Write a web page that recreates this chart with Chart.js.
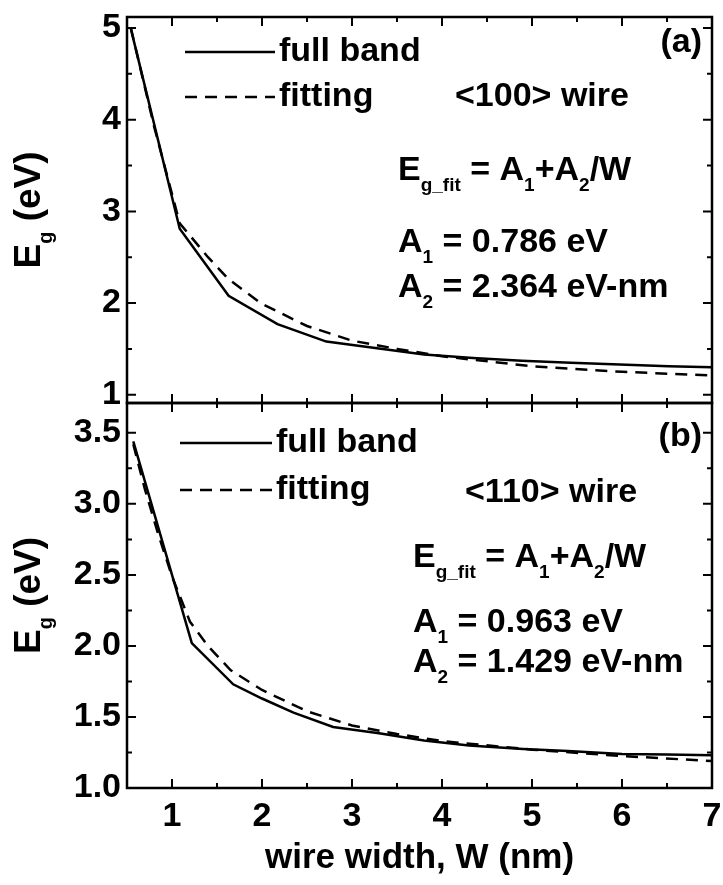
<!DOCTYPE html>
<html><head><meta charset="utf-8">
<script src="https://cdn.jsdelivr.net/npm/chart.js@4.4.1/dist/chart.umd.min.js"></script>
<style>
html,body{margin:0;padding:0;background:#fff;width:723px;height:885px;overflow:hidden}
#c1{position:absolute;left:0;top:0}
#c2{position:absolute;left:0;top:400px}
</style></head><body>
<canvas id="c1" width="723" height="406"></canvas>
<canvas id="c2" width="723" height="485"></canvas>
<script>
// ---------- data ----------
// (a) <100> wire
const wFullA = [0.543, 1.086, 1.629, 2.172, 2.715, 3.258, 3.801, 4.344, 4.887, 5.430, 5.973, 6.516, 7.059];
const egFullA = [4.99, 2.81, 2.08, 1.77, 1.58, 1.51, 1.44, 1.40, 1.37, 1.35, 1.33, 1.31, 1.30];
const wFitA = [0.543, 0.8, 1.086, 1.4, 1.629, 2.0, 2.5, 3.0, 3.5, 4.0, 5.0, 6.0, 7.0];
const egFitA = [5.00, 3.93, 2.87, 2.50, 2.26, 1.99, 1.75, 1.59, 1.50, 1.42, 1.31, 1.25, 1.21];
// (b) <110> wire
const wFullB = [0.57, 1.22, 1.68, 2.0, 2.35, 2.79, 3.3, 3.8, 4.3, 4.9, 5.4, 6.0, 6.5, 7.06];
const egFullB = [3.44, 2.02, 1.73, 1.63, 1.53, 1.43, 1.385, 1.335, 1.30, 1.275, 1.26, 1.24, 1.235, 1.23];
const wFitB = [0.57, 0.7, 0.85, 1.0, 1.2, 1.4, 1.65, 2.0, 2.5, 3.0, 3.5, 4.0, 5.0, 6.0, 7.0];
const egFitB = [3.42, 3.10, 2.78, 2.49, 2.17, 2.00, 1.83, 1.69, 1.54, 1.44, 1.38, 1.33, 1.27, 1.225, 1.19];
// ticks
const xTicks = [1, 2, 3, 4, 5, 6, 7];
const xMinor = [1.5, 2.5, 3.5, 4.5, 5.5, 6.5];
const yTicksA = [1, 2, 3, 4, 5];
const yMinorA = [1.5, 2.5, 3.5, 4.5];
const yTicksB = [1.0, 1.5, 2.0, 2.5, 3.0, 3.5];
const yMinorB = [1.25, 1.75, 2.25, 2.75, 3.25];
const seriesNames = ['full band', 'fitting'];
const xTitle = 'wire width, W (nm)';

const FONT = '"Liberation Sans", Arial, Helvetica, sans-serif';
const f = (s) => `bold ${s}px ${FONT}`;

function pts(xs, ys) { return xs.map((x, i) => ({ x: x, y: ys[i] })); }

function drawRich(ctx, x, y, parts, size) {
  let cx = x;
  ctx.textBaseline = 'alphabetic';
  ctx.textAlign = 'left';
  for (const [t, m] of parts) {
    if (m === 's') {
      ctx.font = f(Math.round(size * 0.55));
      ctx.fillText(t, cx, y + size * 0.32);
    } else {
      ctx.font = f(size);
      ctx.fillText(t, cx, y);
    }
    cx += ctx.measureText(t).width;
  }
  return cx;
}

function makePlugin(cfg) {
  return {
    id: 'deco',
    afterDatasetsDraw(chart) {
      const ctx = chart.ctx;
      const a = chart.chartArea;
      const xs = chart.scales.x, ys = chart.scales.y;
      ctx.save();
      ctx.strokeStyle = '#000';
      ctx.fillStyle = '#000';
      ctx.setLineDash([]);
      // frame
      ctx.lineWidth = 2.5;
      ctx.strokeRect(a.left, a.top, a.right - a.left, a.bottom - a.top);
      // ticks (inward)
      ctx.lineWidth = 2;
      const tk = (list, len) => {
        for (const v of list) {
          const px = xs.getPixelForValue(v);
          if (px < a.left || px > a.right) continue;
          ctx.beginPath();
          ctx.moveTo(px, a.bottom); ctx.lineTo(px, a.bottom - len);
          ctx.moveTo(px, a.top); ctx.lineTo(px, a.top + len);
          ctx.stroke();
        }
      };
      tk(xTicks, 9); tk(xMinor, 5);
      const tky = (list, len) => {
        for (const v of list) {
          const py = ys.getPixelForValue(v);
          ctx.beginPath();
          ctx.moveTo(a.left, py); ctx.lineTo(a.left + len, py);
          ctx.moveTo(a.right, py); ctx.lineTo(a.right - len, py);
          ctx.stroke();
        }
      };
      tky(cfg.yMajor, 9); tky(cfg.yMinor, 5);

      // legend
      const L = cfg.legend;
      ctx.lineWidth = 2.5;
      ctx.beginPath(); ctx.moveTo(L.x0, L.y1); ctx.lineTo(L.x1, L.y1); ctx.stroke();
      ctx.setLineDash([12, 8]);
      ctx.beginPath(); ctx.moveTo(L.x0, L.y2); ctx.lineTo(L.x1, L.y2); ctx.stroke();
      ctx.setLineDash([]);
      ctx.font = f(34);
      ctx.textBaseline = 'middle';
      ctx.textAlign = 'left';
      ctx.fillText(seriesNames[0], L.tx, L.y1);
      ctx.fillText(seriesNames[1], L.tx, L.y2);

      // panel label
      ctx.textAlign = 'right';
      ctx.fillText(cfg.panel, cfg.panelX, cfg.panelY);
      // wire direction
      ctx.textAlign = 'left';
      ctx.fillText(cfg.wire, cfg.wireX, cfg.wireY);

      // formula and constants
      drawRich(ctx, cfg.fx, cfg.fy, [['E', 'n'], ['g_fit', 's'], [' = A', 'n'], ['1', 's'], ['+A', 'n'], ['2', 's'], ['/W', 'n']], 34);
      drawRich(ctx, cfg.fx, cfg.a1y, [['A', 'n'], ['1', 's'], [' = ' + cfg.a1, 'n']], 34);
      drawRich(ctx, cfg.fx, cfg.a2y, [['A', 'n'], ['2', 's'], [' = ' + cfg.a2, 'n']], 34);

      // y-axis title E_g (eV), rotated
      ctx.save();
      ctx.translate(cfg.ytX, (a.top + a.bottom) / 2 + cfg.ytShift);
      ctx.rotate(-Math.PI / 2);
      ctx.font = f(37);
      const w1 = ctx.measureText('E').width;
      ctx.font = f(20);
      const w2 = ctx.measureText('g').width;
      ctx.font = f(37);
      const w3 = ctx.measureText(' (eV)').width;
      const tot = w1 + w2 + w3;
      drawRich(ctx, -tot / 2, 0, [['E', 'n'], ['g', 's'], [' (eV)', 'n']], 37);
      ctx.restore();
      ctx.restore();
    }
  };
}

function makeChart(id, full, fit, yMin, yMax, yMajor, yMinor, labelFmt, isBottom, deco) {
  return new Chart(document.getElementById(id), {
    type: 'line',
    data: {
      datasets: [
        { label: seriesNames[0], data: full, borderColor: '#000', borderWidth: 2.5, pointRadius: 0, tension: 0, fill: false },
        { label: seriesNames[1], data: fit, borderColor: '#000', borderWidth: 2.5, borderDash: [12, 8], pointRadius: 0, tension: 0, fill: false }
      ]
    },
    options: {
      responsive: false,
      animation: false,
      devicePixelRatio: 1,
      layout: { padding: isBottom ? { top: 3, right: 11, bottom: 0, left: 0 } : { top: 17, right: 11, bottom: 3, left: 0 } },
      plugins: { legend: { display: false }, tooltip: { enabled: false } },
      scales: {
        x: {
          type: 'linear', min: 0.5, max: 7,
          display: isBottom,
          grid: { display: false, drawTicks: false },
          border: { display: false },
          afterBuildTicks: s => { s.ticks = xTicks.map(v => ({ value: v })); },
          afterFit: s => { if (isBottom) s.height = 97; s.paddingLeft = 0; s.paddingRight = 0; s.paddingTop = 0; s.paddingBottom = 0; },
          ticks: { color: '#000', font: { size: 34, weight: 'bold', family: FONT }, padding: 8, maxRotation: 0, autoSkip: false, callback: v => String(v) },
          title: { display: isBottom, text: xTitle, color: '#000', font: { size: 35, weight: 'bold', family: FONT }, padding: { top: 0, bottom: 6 } }
        },
        y: {
          type: 'linear', min: yMin, max: yMax,
          grid: { display: false, drawTicks: false },
          border: { display: false },
          afterBuildTicks: s => { s.ticks = yMajor.map(v => ({ value: v })); },
          afterFit: s => { s.width = 127; s.paddingTop = 0; s.paddingBottom = 0; s.paddingLeft = 0; s.paddingRight = 0; },
          ticks: { color: '#000', font: { size: 34, weight: 'bold', family: FONT }, padding: 6, autoSkip: false, callback: v => labelFmt(v) }
        }
      }
    },
    plugins: [makePlugin(Object.assign({ yMajor: yMajor, yMinor: yMinor }, deco))]
  });
}

makeChart('c1', pts(wFullA, egFullA), pts(wFitA, egFitA), 0.91, 5.12, yTicksA, yMinorA, v => String(v), false, {
  legend: { x0: 185, x1: 275, y1: 52, y2: 97, tx: 279 },
  panel: '(a)', panelX: 702, panelY: 43,
  wire: '<100> wire', wireX: 455, wireY: 97,
  fx: 398, fy: 180, a1y: 252, a1: '0.786 eV', a2y: 297, a2: '2.364 eV-nm',
  ytX: 40, ytShift: 0
});
makeChart('c2', pts(wFullB, egFullB), pts(wFitB, egFitB), 1.0, 3.71, yTicksB, yMinorB, v => v.toFixed(1), true, {
  legend: { x0: 180, x1: 272, y1: 43, y2: 90, tx: 276 },
  panel: '(b)', panelX: 702, panelY: 37,
  wire: '<110> wire', wireX: 465, wireY: 93,
  fx: 413, fy: 167, a1y: 232, a1: '0.963 eV', a2y: 272, a2: '1.429 eV-nm',
  ytX: 40, ytShift: 0
});
</script>
</body></html>
